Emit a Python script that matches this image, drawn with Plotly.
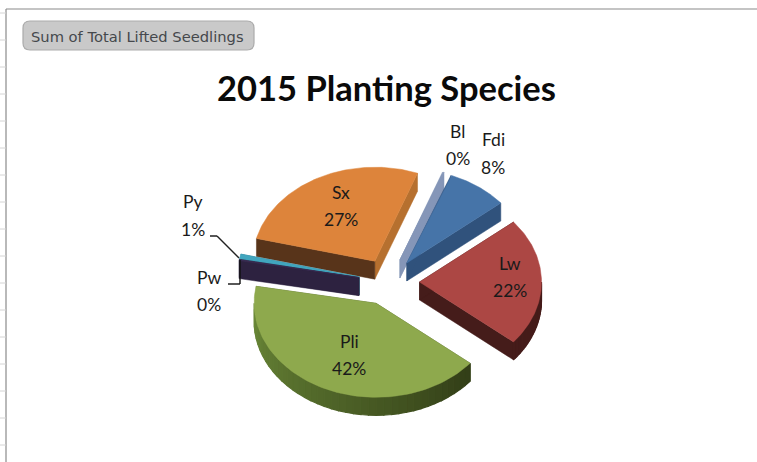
import numpy as np
import plotly.graph_objects as go

# ---- data (clockwise, starting at the Bl slice) ----
species = ["Bl", "Fdi", "Lw", "Pli", "Pw", "Py", "Sx"]
shares = [0.2, 8.1, 22.0, 41.9, 0.2, 0.8, 26.8]
percent_labels = ["0%", "8%", "22%", "42%", "0%", "1%", "27%"]

top_colors = ["#8596B8", "#4674A8", "#AC4744", "#8EA94D", "#3A2C52", "#41A6BF", "#DD843B"]
edge_colors = ["#8596B8", "#30527C", "#451C1A", "#4A5E26", "#2D2240", "#2D6F80", "#B6702F"]
near_edge_colors = ["#8596B8", "#30527C", "#451C1A", "#4A5E26", "#2D2240", "#2D6F80", "#58341A"]
arc_from = ["#8596B8", "#30527C", "#451C1A", "#6A8838", "#2D2240", "#2D6F80", "#58341A"]
arc_to = ["#8596B8", "#30527C", "#451C1A", "#333F18", "#2D2240", "#2D6F80", "#58341A"]
draw_order = ["Sx", "Bl", "Fdi", "Py", "Pw", "Lw", "Pli"]
label_px = {"Sx": (341, 206), "Fdi": (493, 153.5), "Bl": (458, 145), "Lw": (510, 277),
            "Pli": (349, 355), "Py": (193, 215.5), "Pw": (209, 291)}

W, H = 757, 462
CX, CY, RX, RY = 389, 282, 122, 94   # pixel scale of the unit pie
START, EXPLODE = 20.5, 0.25
DEPTH = 18 / RY


def hx(c):
    return np.array([int(c[i:i + 2], 16) for i in (1, 3, 5)])


def mix(a, b, t):
    return "rgb(%d,%d,%d)" % tuple(hx(a) * (1 - t) + hx(b) * t)


def poly(xs, ys, color, name, lw=0.5):
    return go.Scatter(x=list(xs) + [xs[0]], y=list(ys) + [ys[0]], mode="lines", fill="toself",
                      fillcolor=color, line=dict(color=color, width=lw), name=name,
                      hoverinfo="name", showlegend=False)


fig = go.Figure()
total = sum(shares)
spans = np.array(shares) / total * 360
starts = START + np.concatenate([[0], np.cumsum(spans)[:-1]])

for nm in draw_order:
    i = species.index(nm)
    a0, a1 = starts[i], starts[i] + spans[i]
    mid = np.radians((a0 + a1) / 2)
    ax, ay = EXPLODE * np.sin(mid), EXPLODE * np.cos(mid)
    th = np.radians(np.linspace(a0, a1, 90))
    ox, oy = ax + np.sin(th), ay + np.cos(th)
    # radial walls
    for (ex, ey, col) in ((ox[-1], oy[-1], edge_colors[i]), (ox[0], oy[0], near_edge_colors[i])):
        fig.add_trace(poly([ax, ex, ex, ax], [ay, ey, ey - DEPTH, ay - DEPTH], col, nm))
    # outer wall (front half only), shaded in bands
    front = np.radians(np.linspace(max(a0, 90), min(a1, 270), 40)) if min(a1, 270) > max(a0, 90) else []
    n = len(front)
    for k in range(n - 1):
        t = 1 - k / (n - 2)
        bx = ax + np.sin(front[k:k + 2])
        by = ay + np.cos(front[k:k + 2])
        fig.add_trace(poly([bx[0], bx[1], bx[1], bx[0]], [by[0], by[1], by[1] - DEPTH, by[0] - DEPTH],
                           mix(arc_from[i], arc_to[i], t), nm, lw=1.2))
    # top face
    fig.add_trace(poly(np.r_[ax, ox], np.r_[ay, oy], top_colors[i], nm))


def px(x):
    return x / W


def py(y):
    return 1 - y / H


shapes = []


def seg(x0, y0, x1, y1, color, width=1):
    shapes.append(dict(type="line", xref="paper", yref="paper", x0=px(x0), y0=py(y0), x1=px(x1), y1=py(y1),
                       line=dict(color=color, width=width)))


# sheet frame and row ticks
seg(6, 9, 757, 9, "#8A8A8A", 1.2)
seg(6, 9, 6, 462, "#8A8A8A", 1.2)
for yy in range(13, 462, 27):
    seg(0, yy, 6, yy, "#D4D4D4")

# field button
l, r, t, b, c = 23, 254, 21, 50, 7
path = (f"M {px(l + c)} {py(t)} L {px(r - c)} {py(t)} Q {px(r)} {py(t)} {px(r)} {py(t + c)} "
        f"L {px(r)} {py(b - c)} Q {px(r)} {py(b)} {px(r - c)} {py(b)} L {px(l + c)} {py(b)} "
        f"Q {px(l)} {py(b)} {px(l)} {py(b - c)} L {px(l)} {py(t + c)} Q {px(l)} {py(t)} {px(l + c)} {py(t)} Z")
shapes.append(dict(type="path", xref="paper", yref="paper", path=path, fillcolor="#C9C9C9",
                   line=dict(color="#ABABAB", width=1.2)))

# leader lines
seg(210, 236, 217, 236, "#111111", 1.4)
seg(217, 236, 239, 258, "#222222", 1.4)
seg(228, 284, 240, 284, "#111111", 1.4)
seg(240, 284, 240, 260, "#111111", 1.4)

common = dict(xref="paper", yref="paper", showarrow=False, xanchor="center", yanchor="middle")
annotations = [
    dict(text="Sum of Total Lifted Seedlings", x=px(137.5), y=py(36), **common,
         font=dict(family="DejaVu Sans", size=14.7, color="#45484C")),
    dict(text="<b>2015 Planting Species</b>", x=px(386.5), y=py(87), **common,
         font=dict(family="Lato", size=34.5, color="#0A0A0A")),
]
for nm, pct in zip(species, percent_labels):
    lx, ly = label_px[nm]
    for txt, dy in ((nm, -13.5), (pct, 13.5)):
        annotations.append(dict(text=txt, x=px(lx), y=py(ly + dy), **common,
                                font=dict(family="Lato", size=17.5, color="#1A1A1A")))

fig.update_layout(
    width=W, height=H, margin=dict(l=0, r=0, t=0, b=0), autosize=False,
    paper_bgcolor="white", plot_bgcolor="white", showlegend=False,
    xaxis=dict(range=[-CX / RX, (W - CX) / RX], visible=False, fixedrange=True),
    yaxis=dict(range=[-(H - CY) / RY, CY / RY], visible=False, fixedrange=True),
    shapes=shapes, annotations=annotations,
)
fig.write_html("out.html", config=dict(displayModeBar=False),
               post_script="document.body.style.margin='0';document.documentElement.style.overflow='hidden';")
